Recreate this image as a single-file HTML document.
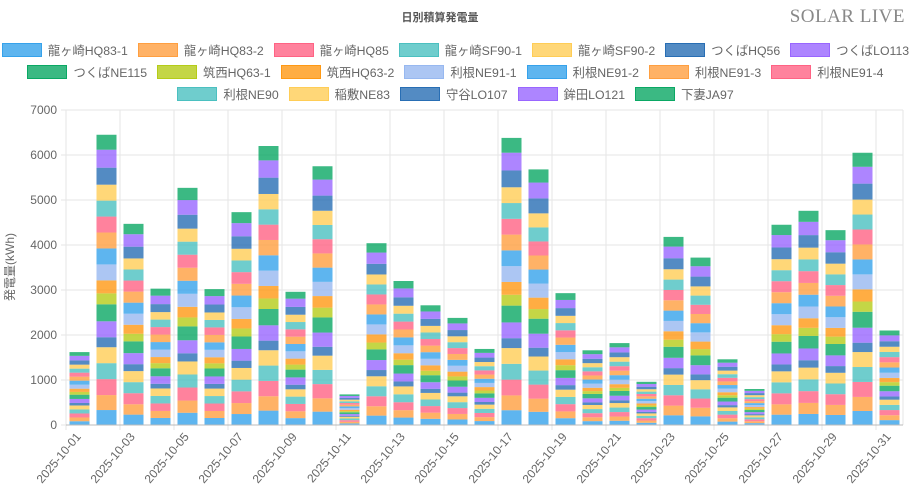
<!DOCTYPE html>
<html><head><meta charset="utf-8"><style>
body{margin:0;width:911px;height:500px;background:#fff;font-family:"Liberation Sans","Noto Sans CJK JP",sans-serif;overflow:hidden;position:relative}
#t{position:absolute;left:0;width:880px;top:9px;text-align:center;font-size:11px;font-weight:bold;color:#555}
#s{position:absolute;right:6px;top:6px;font-family:"Liberation Serif",serif;font-size:19px;color:#888;letter-spacing:0.5px}
.row{position:absolute;left:0;width:911px;display:flex;justify-content:center;font-size:12.3px;color:#666}
.it{display:flex;align-items:center;margin:0 5px 0 5px;white-space:nowrap}
.bx{width:38px;height:12px;border:1.5px solid;margin-right:6px}
</style></head><body>
<div id="t">日別積算発電量</div><div id="s">SOLAR LIVE</div>
<div id="leg"></div>
<svg id="c" width="911" height="500" style="position:absolute;left:0;top:0"></svg>
<script>
const names=["龍ヶ崎HQ83-1","龍ヶ崎HQ83-2","龍ヶ崎HQ85","龍ヶ崎SF90-1","龍ヶ崎SF90-2","つくばHQ56","つくばLO113","つくばNE115","筑西HQ63-1","筑西HQ63-2","利根NE91-1","利根NE91-2","利根NE91-3","利根NE91-4","利根NE90","稲敷NE83","守谷LO107","鉾田LO121","下妻JA97"];
const cols=["54,162,235","255,159,64","255,99,132","75,192,192","255,205,86","40,110,180","153,102,255","10,168,100","181,204,24","255,153,20","151,184,240","54,162,235","255,159,64","255,99,132","75,192,192","255,205,86","40,110,180","153,102,255","10,168,100"];
const rows=[[0,7],[7,14],[14,19]],ry=[49,71,93];
let h="";rows.forEach((r,k)=>{h+=`<div class="row" style="top:${ry[k]-8}px">`;for(let i=r[0];i<r[1];i++)h+=`<div class="it"><div class="bx" style="background:rgba(${cols[i]},.8);border-color:rgb(${cols[i]})"></div>${names[i]}</div>`;h+="</div>"});
document.getElementById("leg").innerHTML=h;
const w=[333,333,355,355,355,222,355,378,244,289,355,355,355,355,355,355,378,400,333];const ws=w.reduce((a,b)=>a+b);
const tot=[1620,6450,4470,3030,5270,3020,4730,6200,2960,5750,680,4040,3200,2660,2380,1690,6380,5680,2930,1660,1820,960,4180,3720,1460,800,4450,4760,4330,6050,2100];
const x0=66,x1=903,y0=425,k=45/1000,cw=(x1-x0)/31;let s="";
for(let v=0;v<=7000;v+=1000){const y=y0-v*k;s+=`<line x1="${x0-5}" x2="${x1}" y1="${y}" y2="${y}" stroke="#e5e5e5"/><text x="${x0-9}" y="${y+4}" text-anchor="end" font-size="12" fill="#666">${v}</text>`;}
for(let i=0;i<=31;i+=2){const x=x0+i*cw;s+=`<line x1="${x}" x2="${x}" y1="110" y2="${y0+5}" stroke="#e5e5e5"/>`;}
s+=`<line x1="${x1}" x2="${x1}" y1="110" y2="${y0}" stroke="#e5e5e5"/>`;
tot.forEach((t,i)=>{let y=y0;const bx=x0+i*cw+3.5;w.forEach((wi,j)=>{const hh=t*wi/ws*k;y-=hh;s+=`<rect x="${bx}" y="${y}" width="${cw-7}" height="${hh}" fill="rgba(${cols[j]},.8)"/>`;});
if(i%2==0){const cx=bx+(cw-7)/2+2,cy=y0+12;s+=`<text transform="translate(${cx},${cy}) rotate(-50)" text-anchor="end" font-size="12" fill="#666">2025-10-${String(i+1).padStart(2,"0")}</text>`;}});
s+=`<line x1="${x0}" x2="${x1}" y1="${y0}" y2="${y0}" stroke="#bbb"/>`;
s+=`<text transform="translate(14,267) rotate(-90)" text-anchor="middle" font-size="12" fill="#666">発電量(kWh)</text>`;
document.getElementById("c").innerHTML=s;
</script></body></html>
